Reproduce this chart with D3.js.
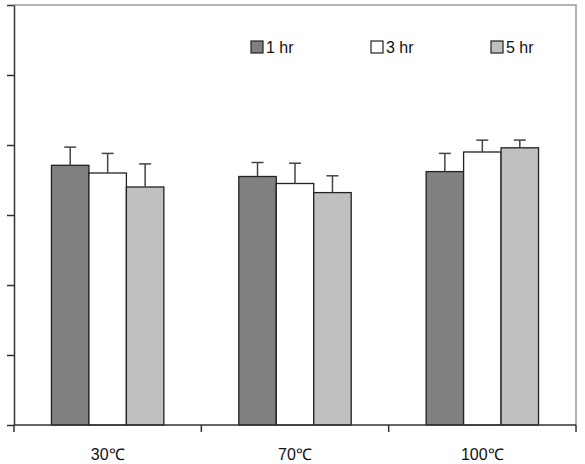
<!DOCTYPE html>
<html>
<head>
<meta charset="utf-8">
<script src="https://cdn.jsdelivr.net/npm/d3@7"></script>
<style>
  body { margin: 0; background: #fff; }
  text { font-family: "Liberation Sans", Arial, sans-serif; }
</style>
</head>
<body>
<svg id="chart" width="585" height="464"></svg>
<script>
const categories = ['30\u2103', '70\u2103', '100\u2103']
const series = ['1 hr', '3 hr', '5 hr']
const colors = ['#808080', '#ffffff', '#c0c0c0']
// mean values, one array per series (across categories)
const values1hr = [3.71, 3.55, 3.62]
const values3hr = [3.60, 3.45, 3.90]
const values5hr = [3.40, 3.32, 3.96]
// upper error (sd)
const err1hr = [0.26, 0.20, 0.26]
const err3hr = [0.28, 0.29, 0.17]
const err5hr = [0.33, 0.24, 0.11]
const yTicks = [0, 1, 2, 3, 4, 5, 6]

const seriesValues = [values1hr, values3hr, values5hr]
const seriesErrors = [err1hr, err3hr, err5hr]

const svg = d3.select('#chart')
const plotLeft = 14, plotRight = 576, plotTop = 5, plotBottom = 425

const x = d3.scaleBand().domain(categories).range([plotLeft, plotRight])
const x1 = d3.scaleBand().domain(series)
    .range([x.bandwidth() * 0.2, x.bandwidth() * 0.8])
const y = d3.scaleLinear().domain([0, 6]).range([plotBottom, plotTop])

// frame: top and right borders
svg.append('path')
    .attr('d', `M${plotLeft},${plotTop}H${plotRight}V${plotBottom}`)
    .attr('fill', 'none')
    .attr('stroke', '#999')
    .attr('stroke-width', 1.5)

const data = []
categories.forEach((c, i) => {
    series.forEach((s, j) => {
        data.push({cat: c, ser: s, idx: j, v: seriesValues[j][i], e: seriesErrors[j][i]})
    })
})

const g = svg.append('g')

g.selectAll('rect')
    .data(data)
    .enter()
    .append('rect')
    .attr('x', d => x(d.cat) + x1(d.ser))
    .attr('y', d => y(d.v))
    .attr('width', x1.bandwidth())
    .attr('height', d => y(0) - y(d.v))
    .attr('fill', d => colors[d.idx])
    .attr('stroke', '#222')
    .attr('stroke-width', 1.3)

// error bars (upper only)
const eb = g.selectAll('.err')
    .data(data)
    .enter()
    .append('g')
    .attr('class', 'err')
    .attr('stroke', '#444')
    .attr('stroke-width', 1.5)
eb.append('line')
    .attr('x1', d => x(d.cat) + x1(d.ser) + x1.bandwidth() / 2)
    .attr('x2', d => x(d.cat) + x1(d.ser) + x1.bandwidth() / 2)
    .attr('y1', d => y(d.v))
    .attr('y2', d => y(d.v + d.e))
eb.append('line')
    .attr('x1', d => x(d.cat) + x1(d.ser) + x1.bandwidth() / 2 - 6)
    .attr('x2', d => x(d.cat) + x1(d.ser) + x1.bandwidth() / 2 + 6)
    .attr('y1', d => y(d.v + d.e))
    .attr('y2', d => y(d.v + d.e))

// y axis with no labels
const yAxis = svg.append('g')
    .attr('transform', `translate(${plotLeft},0)`)
    .call(d3.axisLeft(y).tickValues(yTicks).tickSize(7).tickSizeOuter(0).tickFormat(''))
yAxis.select('.domain').attr('stroke', '#333').attr('stroke-width', 1.5)
yAxis.selectAll('.tick line').attr('stroke', '#333').attr('stroke-width', 1.5)

// x axis: ticks at category boundaries
const xAxis = svg.append('g')
    .attr('transform', `translate(0,${plotBottom})`)
xAxis.append('line')
    .attr('x1', plotLeft).attr('x2', plotRight)
    .attr('stroke', '#333').attr('stroke-width', 1.5)
const bounds = categories.map(c => x(c)).concat([x.range()[1]])
xAxis.selectAll('.xtick')
    .data(bounds)
    .enter()
    .append('line')
    .attr('x1', d => d).attr('x2', d => d)
    .attr('y1', 0).attr('y2', 7)
    .attr('stroke', '#333').attr('stroke-width', 1.5)
xAxis.selectAll('.xlabel')
    .data(categories)
    .enter()
    .append('text')
    .attr('x', d => x(d) + x.bandwidth() / 2)
    .attr('y', 35)
    .attr('text-anchor', 'middle')
    .attr('font-size', 16)
    .attr('fill', '#111')
    .text(d => d)

// legend
const legend = svg.append('g')
    .selectAll('g')
    .data(series)
    .enter()
    .append('g')
    .attr('transform', (d, i) => `translate(${251 + i * 120},41)`)
legend.append('rect')
    .attr('width', 12).attr('height', 12)
    .attr('fill', (d, i) => colors[i])
    .attr('stroke', '#222')
    .attr('stroke-width', 1.2)
legend.append('text')
    .attr('x', 15)
    .attr('y', 12)
    .attr('font-size', 16)
    .attr('fill', '#111')
    .text(d => d)
</script>
</body>
</html>
